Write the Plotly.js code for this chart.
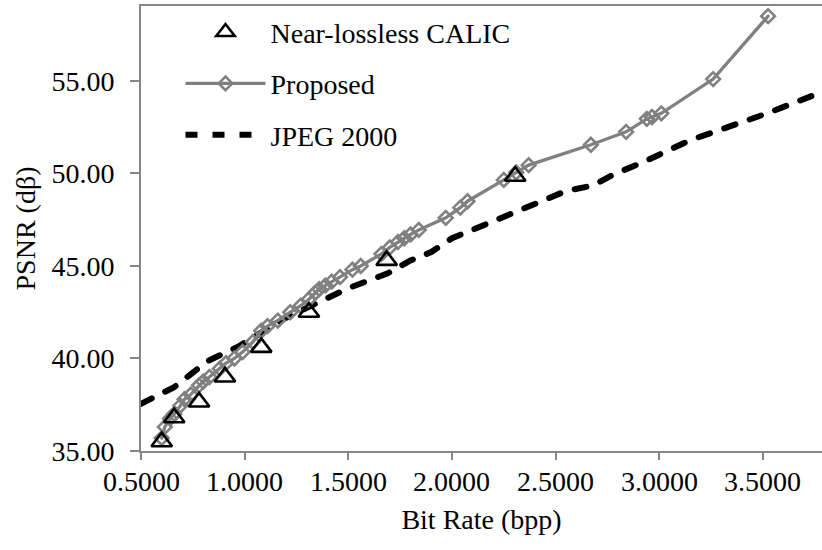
<!DOCTYPE html>
<html>
<head>
<meta charset="utf-8">
<script src="https://cdn.plot.ly/plotly-3.0.1.min.js"></script>
<style>
  html, body { margin: 0; padding: 0; background: #fff; }
  #chart { width: 822px; height: 550px; }
  /* every label of the figure in Times-style serif */
  #chart svg text { font-family: "Liberation Serif", "Times New Roman", Times, serif !important; }
  /* rounded ends on the dashed JPEG 2000 curve */
  .trace.scatter .js-line { stroke-linecap: round; }
</style>
</head>
<body>
<div id="chart"></div>
<script>
// Bit rate (bpp) / PSNR (dB) for each coder
const calicRate = [0.60, 0.66, 0.78, 0.905, 1.08, 1.31, 1.685, 2.305];
const calicPsnr = [35.50, 36.80, 37.65, 39.00, 40.60, 42.50, 45.30, 49.85];

const proposedRate = [0.600, 0.615, 0.640, 0.660, 0.690, 0.710, 0.740, 0.780, 0.800, 0.830,
                      0.880, 0.910, 0.950, 0.990, 1.040, 1.080, 1.110, 1.160, 1.220, 1.270,
                      1.310, 1.340, 1.360, 1.390, 1.420, 1.460, 1.520, 1.560, 1.660, 1.700,
                      1.740, 1.770, 1.800, 1.840, 1.970, 2.040, 2.075, 2.250, 2.310, 2.370,
                      2.670, 2.840, 2.940, 2.965, 3.010, 3.260, 3.525];
const proposedPsnr = [35.70, 36.30, 36.75, 37.00, 37.45, 37.80, 38.05, 38.55, 38.75, 39.00,
                      39.45, 39.75, 40.00, 40.35, 40.90, 41.50, 41.75, 42.05, 42.50, 42.85,
                      43.20, 43.55, 43.75, 43.95, 44.15, 44.40, 44.80, 45.00, 45.65, 46.00,
                      46.30, 46.50, 46.70, 46.95, 47.60, 48.15, 48.50, 49.65, 50.05, 50.45,
                      51.55, 52.25, 52.95, 53.05, 53.25, 55.10, 58.50];

const jpegRate = [0.50, 0.66, 0.82, 0.97, 1.08, 1.19, 1.35, 1.50, 1.69, 1.80,
                  1.90, 2.00, 2.12, 2.30, 2.46, 2.55, 2.68, 2.78, 2.92, 3.15,
                  3.33, 3.52, 3.75, 3.80];
const jpegPsnr = [37.55, 38.45, 39.85, 40.65, 41.40, 42.15, 43.00, 43.80, 44.60, 45.30,
                  45.75, 46.50, 47.05, 47.90, 48.65, 49.05, 49.35, 49.95, 50.60, 51.80,
                  52.50, 53.25, 54.25, 54.45];

const xTicks = [0.5, 1.0, 1.5, 2.0, 2.5, 3.0, 3.5];
const xTickText = ['0.5000', '1.0000', '1.5000', '2.0000', '2.5000', '3.0000', '3.5000'];
const yTicks = [35, 40, 45, 50, 55];

const serif = 'Liberation Serif';
const axisGray = '#868686';
const lineGray = '#808080';

const jpegTrace = {
  name: 'JPEG 2000',
  x: jpegRate, y: jpegPsnr,
  type: 'scatter', mode: 'lines',
  line: { color: '#000', width: 6, dash: '12px,15px' },
  legendgroup: 'jpeg', legendrank: 3
};
const proposedTrace = {
  name: 'Proposed',
  x: proposedRate, y: proposedPsnr,
  type: 'scatter', mode: 'lines+markers',
  line: { color: lineGray, width: 3.3 },
  marker: { symbol: 'diamond-open', size: 10.5, color: lineGray, line: { color: lineGray, width: 2.6 } },
  legendgroup: 'proposed', legendrank: 2
};
const calicTrace = {
  name: 'Near-lossless CALIC',
  x: calicRate, y: calicPsnr,
  type: 'scatter', mode: 'markers',
  marker: { symbol: 'triangle-up-open', size: 18, color: '#000', line: { color: '#000', width: 2.6 } },
  legendgroup: 'calic', legendrank: 1
};

// curves go beneath the triangles
const data = [jpegTrace, proposedTrace, calicTrace];

// bit-rate tick labels set just under the axis line
const xLabelNotes = xTicks.map((v, i) => ({
  x: v, xref: 'x', y: 0, yref: 'paper',
  text: xTickText[i], showarrow: false,
  xanchor: 'center', yanchor: 'middle', yshift: -30,
  font: { family: serif, size: 28, color: '#000' }
}));

const layout = {
  width: 822, height: 550,
  margin: { l: 141, r: 0, t: 6, b: 99 },
  paper_bgcolor: '#fff', plot_bgcolor: '#fff',
  font: { family: serif, size: 28, color: '#000' },
  showlegend: true,
  legend: {
    x: 0.058, y: 0.997, xanchor: 'left', yanchor: 'top',
    bgcolor: 'rgba(0,0,0,0)', borderwidth: 0,
    traceorder: 'grouped', tracegroupgap: 12,
    itemwidth: 80,
    font: { family: serif, size: 28, color: '#000' }
  },
  annotations: xLabelNotes,
  xaxis: {
    range: [0.5, 3.785],
    tickvals: xTicks, showticklabels: false,
    ticks: 'outside', ticklen: 7, tickwidth: 2, tickcolor: axisGray,
    showline: true, linecolor: axisGray, linewidth: 2, mirror: true,
    showgrid: false, zeroline: false,
    title: { text: 'Bit Rate (bpp)', font: { family: serif, size: 28 }, standoff: 50 },
    automargin: false
  },
  yaxis: {
    range: [35, 59.05],
    tickvals: yTicks, tickformat: '.2f',
    ticks: 'outside', ticklen: 9, tickwidth: 2, tickcolor: axisGray,
    showline: true, linecolor: axisGray, linewidth: 2, mirror: false,
    showgrid: false, zeroline: false,
    ticklabelstandoff: 10,
    tickfont: { family: serif, size: 28 },
    title: { text: 'PSNR (dβ)', font: { family: serif, size: 28 }, standoff: 8 },
    automargin: false
  }
};

Plotly.newPlot('chart', data, layout, { displayModeBar: false, staticPlot: true });
</script>
</body>
</html>
